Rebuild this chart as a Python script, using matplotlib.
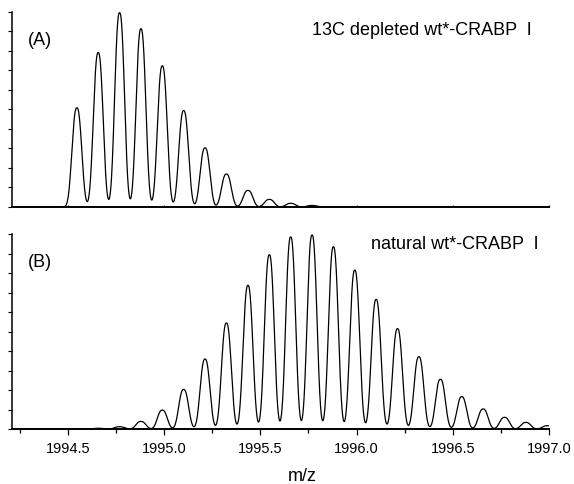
import numpy as np
import matplotlib
matplotlib.use("Agg")
import matplotlib.pyplot as plt
from matplotlib.ticker import MultipleLocator, NullFormatter

plt.rcParams['font.family'] = ['Liberation Sans', 'DejaVu Sans']

# isotope peak centres (m/z), spacing ~1/9 (z = 9)
peaks_a = [1994.547, 1994.658, 1994.769, 1994.880, 1994.991, 1995.102,
           1995.213, 1995.324, 1995.436, 1995.547, 1995.658, 1995.769]
heights_a = [0.508, 0.791, 0.995, 0.913, 0.723, 0.494,
             0.303, 0.169, 0.085, 0.039, 0.019, 0.008]

peaks_b = [1994.547, 1994.658, 1994.769, 1994.880, 1994.991, 1995.102,
           1995.213, 1995.324, 1995.436, 1995.547, 1995.658, 1995.769,
           1995.880, 1995.991, 1996.102, 1996.213, 1996.324, 1996.436,
           1996.547, 1996.658, 1996.769, 1996.880, 1996.991]
heights_b = [0.001, 0.004, 0.012, 0.039, 0.097, 0.203, 0.359, 0.544,
             0.737, 0.894, 0.985, 0.995, 0.935, 0.815, 0.665, 0.515,
             0.371, 0.255, 0.166, 0.103, 0.060, 0.034, 0.017]

label_a = "13C depleted wt*-CRABP  I"
label_b = "natural wt*-CRABP  I"
xlab = "m/z"

# peak shape (Da) - slightly flattened gaussian
width = 0.0246
shape_pow = 2.5
mz = np.linspace(1994.2, 1997.0, 4000)


def profile(centres, heights):
    y = np.zeros_like(mz)
    for c, h in zip(centres, heights):
        y += h * np.exp(-np.abs((mz - c) / width) ** shape_pow / 2)
    return y


fig = plt.figure(figsize=(5.74, 4.84), dpi=100)
ax1 = fig.add_axes([0.0209, 0.5723, 0.9355, 0.4035])
ax2 = fig.add_axes([0.0209, 0.1136, 0.9355, 0.4029])

for ax, cen, hts in [(ax1, peaks_a, heights_a), (ax2, peaks_b, heights_b)]:
    ax.plot(mz, profile(cen, hts), color='black', lw=0.9)
    ax.set_xlim(1994.21, 1997.0)
    ax.set_ylim(0, 1.0)
    ax.spines['top'].set_visible(False)
    ax.spines['right'].set_visible(False)
    ax.spines['left'].set_linewidth(1.1)
    ax.spines['bottom'].set_linewidth(1.4)
    ax.yaxis.set_major_locator(MultipleLocator(0.1))
    ax.yaxis.set_major_formatter(NullFormatter())
    ax.tick_params(axis='y', direction='out', length=3, width=0.8)
    ax.xaxis.set_major_locator(MultipleLocator(0.5))
    ax.xaxis.set_minor_locator(MultipleLocator(0.25))

ax1.xaxis.set_major_formatter(NullFormatter())
ax1.tick_params(axis='x', which='major', direction='in', length=1.5, width=0.8)
ax1.tick_params(axis='x', which='minor', length=0)

ax2.xaxis.set_major_formatter(matplotlib.ticker.FormatStrFormatter('%.1f'))
ax2.tick_params(axis='x', which='major', direction='out', length=4.5,
                width=0.9, labelsize=10.5, pad=5)
ax2.tick_params(axis='x', which='minor', direction='out', length=3, width=0.9)

fig.text(0.0488, 0.907, "(A)", fontsize=13, va='baseline')
fig.text(0.543, 0.928, label_a, fontsize=13, va='baseline')
fig.text(0.0488, 0.449, "(B)", fontsize=13, va='baseline')
fig.text(0.646, 0.485, label_b, fontsize=13, va='baseline')
fig.text(0.527, 0.006, xlab, fontsize=13, ha='center', va='baseline')

fig.savefig("out.png", dpi=100)
